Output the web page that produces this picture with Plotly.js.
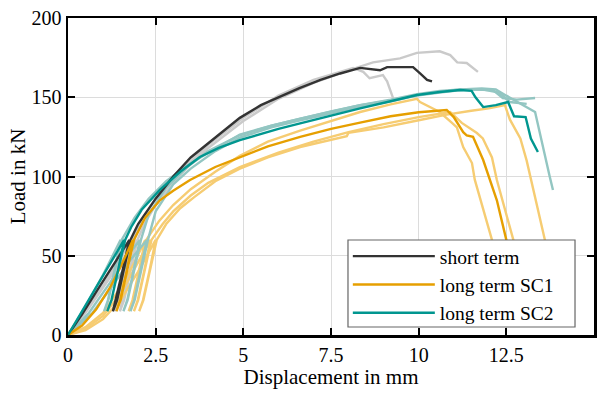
<!DOCTYPE html>
<html><head><meta charset="utf-8">
<script src="https://cdn.plot.ly/plotly-3.0.1.min.js"></script>
<style>html,body{margin:0;padding:0;background:#fff}#chart{width:603px;height:393px}</style>
</head><body><div id="chart"></div>
<script>
// short term
const st_main_x = [0,0.4,0.8,1.2,1.5,1.75,1.55,1.37,1.28,1.4,1.58,1.78,2.0,2.5,3.0,3.5,4.0,4.5,4.9,5.5,6.0,6.6,7.2,7.76,8.33,8.9,9.1,9.84,10.04,10.24,10.38];
const st_main_y = [0,13,27,41,51,60,40,22,15,22,40,60,70,86,100,112,121,130,137,145,150,155.8,161,165,168.5,167,169,169,165,161,160];
const st_g1_x = [0,0.5,1.0,1.5,1.95,1.75,1.57,1.48,1.6,1.78,1.98,2.2,2.5,3.0,3.5,4.0,5.0,6.0,7.0,8.0,8.7,9.47,9.95,10.6,10.9,11.1,11.37,11.69];
const st_g1_y = [0,14,30,46,60,40,22,15,22,40,60,71,82,96,108,118,135,149,159,167,172,174.5,178,179,176.6,172,171.6,166];
const st_g2_x = [0,0.5,1.0,1.5,1.82,1.62,1.44,1.35,1.47,1.65,1.85,2.1,2.5,3.0,4.0,5.0,6.0,7.0,8.13,8.42,8.6,8.98,9.1,9.27];
const st_g2_y = [0,15,31,49,60,40,22,15,22,40,60,72,86,99,120,137,151,161,168.5,166,162,164,160,149.5];
// long term SC1
const sc1_main_x = [0,0.4,0.8,1.2,1.5,1.85,1.67,1.49,1.38,1.5,1.68,1.88,2.2,2.62,3.0,3.48,4.2,4.9,5.7,6.62,7.5,8.33,9.2,10.0,10.8,11.0,11.27,11.37,11.55,11.84,12.23,12.5,12.7];
const sc1_main_y = [0,6,16,30,43,60,40,22,15,22,40,60,74,85,91,97.8,106,112.3,119,125,130,134,138,140.5,142,137.5,128,126,125,110.4,85,60,40];
const sc1_b_x = [0,0.5,1.0,1.5,2.0,2.5,2.32,2.14,2.03,2.15,2.33,2.53,2.8,3.2,3.6,4.2,4.9,5.7,6.62,7.5,7.95,8.0,8.33,9.0,10.0,10.8,11.5,12.0,12.46,12.6,12.9,13.08,13.6,13.8];
const sc1_b_y = [0,3,10,22,40,60,40,22,15,22,40,60,70,80,87,97,105,112,118.6,123,125.5,127.5,128.5,131,135.5,139,141.5,143,145,136,124,110,60,40];
const sc1_c_x = [0,0.5,1.0,1.5,1.9,2.2,2.02,1.84,1.73,1.85,2.03,2.23,2.6,3.0,3.5,4.2,4.9,5.7,6.62,7.5,8.33,9.2,9.95,10.04,10.3,10.6,10.95,11.09,11.27,11.52,11.6,12.09,12.3];
const sc1_c_y = [0,5,14,30,46,60,40,22,15,22,40,60,72,82,92,103,113,122,129,135,140.7,145.5,149,147,144,140.7,133.8,131,118.6,108.5,98,60,40];
const sc1_d_x = [0,0.5,1.0,1.5,2.0,2.35,2.17,1.99,1.88,2.0,2.18,2.38,2.7,3.0,3.5,4.0,4.9,6.0,7.0,8.0,9.0,10.0,10.9,11.23,11.66,11.83,12.09,12.23,12.7,12.9];
const sc1_d_y = [0,4,12,26,46,60,40,22,15,22,40,60,70,78,88,96,106,115,122,128,133,137.5,140.7,133.8,127.4,124,112,97.8,60,40];
// long term SC2
const sc2_main_x = [0,0.4,0.8,1.2,1.6,1.42,1.24,1.12,1.24,1.42,1.63,1.8,2.1,2.62,3.2,3.76,4.3,4.9,5.5,6.0,6.62,7.4,8.33,9.2,9.95,10.6,11.18,11.51,11.62,11.84,12.2,12.55,12.72,13.05,13.2,13.4];
const sc2_main_y = [0,15,30,45,60,40,22,15,22,40,60,68,79,91.5,103,112.3,118,123,127,130,133.5,138,143,147.5,151.4,153.3,154.6,154,150,143.8,145,147,138,137.5,124,115.5];
const sc2_b_x = [0,0.5,1.0,1.3,1.5,1.32,1.14,1.03,1.15,1.33,1.53,1.9,2.3,2.8,3.4,4.0,4.9,5.8,6.62,7.5,8.33,9.2,9.95,10.6,11.2,11.8,12.12,12.4,12.8,13.32];
const sc2_b_y = [0,18,38,51,60,40,22,15,22,40,60,74,86,97,107,115,126.5,132,136.5,141,145,148.5,152,154,155,155,154.6,149.5,148.5,149.5];
const sc2_c_x = [0,0.6,1.2,1.7,2.05,1.87,1.69,1.58,1.7,1.88,2.08,2.3,2.8,3.4,4.0,4.9,5.8,6.62,7.5,8.33,9.2,9.95,10.6,11.2,11.8,12.2,12.5,12.9,13.32,13.74,13.83];
const sc2_c_y = [0,14,33,50,60,40,22,15,22,40,60,76,93,106,116,126,132,136.5,141,145,148,151.5,153.5,155,155.5,155,151,146,140.7,99.7,91.5];
const sc2_d_x = [0,0.7,1.3,1.8,2.25,2.07,1.89,1.78,1.9,2.08,2.28,2.5,3.0,3.5,4.2,4.9,5.8,6.62,7.5,8.33,9.2,9.95,10.6,11.2,11.8,12.3,12.6,13.08];
const sc2_d_y = [0,14,32,48,60,40,22,15,22,40,60,78,95,105,116,124.5,131,135.5,140,144,147.5,151,153,154.5,155,153,147,145.8];

const names = ['short term','long term SC1','long term SC2'];
const xTicks = [0,2.5,5,7.5,10,12.5,15];
const xTickText = ['0','2.5','5','7.5','10','12.5','15'];
const yTicks = [0,50,100,150,200];

const C = {dark:'#333333', gray:'#cacaca', orange:'#E69F00', lorange:'#F6CC72', teal:'#00968F', lteal:'#93C6C2'};

function tr(x,y,color,name,show){
  return {x:x,y:y,type:'scatter',mode:'lines',line:{color:color,width:2.4},name:name||'',showlegend:!!show,hoverinfo:'skip'};
}
const data = [
  tr(st_g1_x,st_g1_y,C.gray), tr(st_g2_x,st_g2_y,C.gray),
  tr(sc1_b_x,sc1_b_y,C.lorange), tr(sc1_c_x,sc1_c_y,C.lorange), tr(sc1_d_x,sc1_d_y,C.lorange),
  tr(sc2_b_x,sc2_b_y,C.lteal), tr(sc2_c_x,sc2_c_y,C.lteal), tr(sc2_d_x,sc2_d_y,C.lteal),
  tr(st_main_x,st_main_y,C.dark,names[0],true),
  tr(sc1_main_x,sc1_main_y,C.orange,names[1],true),
  tr(sc2_main_x,sc2_main_y,C.teal,names[2],true)
];
const fam = '"Liberation Serif","DejaVu Serif",serif';
const font = {family:fam, size:20, color:'#000'};
const axBase = {showline:true, linecolor:'#000', linewidth:2.5, mirror:'ticks', ticks:'inside', ticklen:7, tickwidth:2, tickcolor:'#000',
  showgrid:true, gridcolor:'#dcdcdc', gridwidth:1, zeroline:false, tickfont:font};
const layout = {
  width:603, height:393, margin:{l:68,r:9,t:18,b:58},
  paper_bgcolor:'#fff', plot_bgcolor:'#fff', font:font,
  xaxis:Object.assign({}, axBase, {range:[0,15], tickvals:xTicks, ticktext:xTickText, title:{text:'Displacement in mm', font:{family:fam,size:21}, standoff:5}}),
  yaxis:Object.assign({}, axBase, {range:[0,200], tickvals:yTicks, title:{text:'Load in kN', font:{family:fam,size:21}, standoff:0}}),
  legend:{x:0.532, y:0.158, xanchor:'left', yanchor:'middle', bgcolor:'rgba(0,0,0,0)', borderwidth:0,
    font:{family:fam,size:19.5}, itemwidth:82, tracegroupgap:0},
  shapes:[{type:'rect', xref:'paper', yref:'paper', x0:0.5323, x1:0.9639, y0:0.0252, y1:0.2997,
    fillcolor:'#fff', line:{color:'#666', width:1.2}, layer:'above'}],
  showlegend:true
};
Plotly.newPlot('chart', data, layout, {staticPlot:true, displayModeBar:false});
</script></body></html>
